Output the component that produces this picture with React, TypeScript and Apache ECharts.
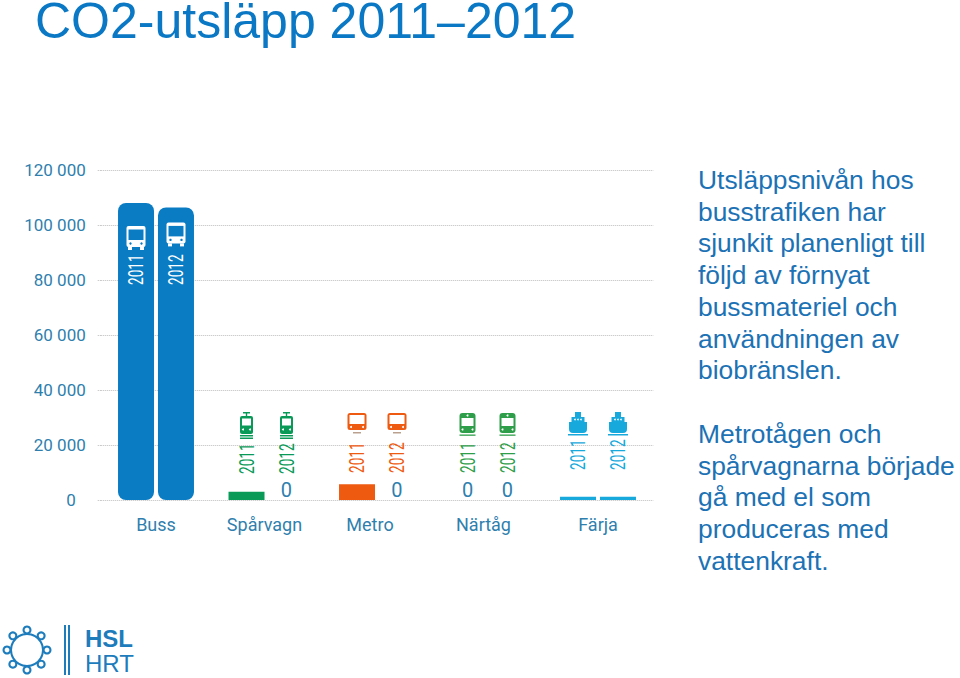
import React, { useEffect, useRef } from "react";
import * as echarts from "echarts";

const categories = ["Buss", "Spårvagn", "Metro", "Närtåg", "Färja"];
const years = ["2011", "2012"];
const values2011 = [108000, 3000, 5700, 0, 1200];
const values2012 = [106400, 0, 0, 0, 1200];
const modeColors = ["#0a7cc4", "#0a9a58", "#ee5a10", "#2f9e4a", "#18a9dc"];
const titleText = "CO2-utsläpp 2011\u20132012";
const paragraphOne = [
  "Utsläppsnivån hos",
  "busstrafiken har",
  "sjunkit planenligt till",
  "följd av förnyat",
  "bussmateriel och",
  "användningen av",
  "biobränslen.",
];
const paragraphTwo = [
  "Metrotågen och",
  "spårvagnarna började",
  "gå med el som",
  "produceras med",
  "vattenkraft.",
];

const NARROW = "Roboto, sans-serif";
const ARIAL = '"Liberation Sans", Arial, sans-serif';
const TEXT_BLUE = "#2f7fae";
const PARA = "#1c72b4";
const LOGO = "#1d7cbc";
const GRID = "#bdbdbd";
const labelNudge = [0, 4, 14, 8, 0];
const yearBottoms = [285, 474, 473, 473, 470];

const r = (x: number, y: number, width: number, height: number, fill: string, rad: any = 0) => ({
  type: "rect",
  shape: { x, y, width, height, r: rad },
  style: { fill },
});
const c = (cx: number, cy: number, radius: number, fill: string) => ({
  type: "circle",
  shape: { cx, cy, r: radius },
  style: { fill },
});

function iconParts(cat: number, color: string, bg: string) {
  if (cat === 0) {
    return [
      r(-9.5, -12, 19, 21, color, 2),
      r(-7.5, -8.5, 15, 10.5, bg),
      c(-5.5, 5.5, 1.2, bg),
      c(5.5, 5.5, 1.2, bg),
      r(-8, 9, 4, 3, color),
      r(4, 9, 4, 3, color),
    ];
  }
  if (cat === 1) {
    return [
      r(-3.5, -13, 7, 1.5, color),
      r(-0.7, -13, 1.4, 4, color),
      r(-6.5, -9, 13, 18, color, 2),
      r(-4.5, -6.5, 9, 7, bg),
      c(-3.5, 4.5, 1, bg),
      c(3.5, 4.5, 1, bg),
      r(-6.5, 10, 13, 1.5, color),
      r(-6.5, 12.5, 13, 1.5, color),
    ];
  }
  if (cat === 2) {
    return [
      r(-9.5, -12, 19, 17, color, 2.5),
      r(-7.5, -10, 15, 9, bg),
      c(-6, 2, 1, bg),
      c(6, 2, 1, bg),
      r(-4, 7, 8, 1.5, "#b9a08f"),
    ];
  }
  if (cat === 3) {
    return [
      r(-8, -12, 16, 20, color, 3),
      r(-6, -7, 12, 8, bg),
      c(0, -9.5, 1, bg),
      c(-5, 4.5, 1, bg),
      c(5, 4.5, 1, bg),
      r(-8, 9.5, 16, 1.3, color),
    ];
  }
  return [
    r(-3, -13, 6, 5, color),
    r(-6.5, -8, 13, 5, color),
    c(-3, -5.5, 0.8, bg),
    c(0, -5.5, 0.8, bg),
    c(3, -5.5, 0.8, bg),
    r(-9, -3, 18, 11, color, [0, 0, 4, 4]),
    r(-10, 9, 20, 1.5, color),
  ];
}

export default function App() {
  const ref = useRef<HTMLDivElement>(null);
  useEffect(() => {
    const chart = echarts.init(ref.current!, undefined, { renderer: "svg" });
    const bar = (name: string, values: number[]) => ({
      name,
      type: "bar",
      barWidth: 36,
      barGap: "11%",
      z: 3,
      data: values.map((v, i) => ({
        value: v,
        itemStyle: {
          color: modeColors[i],
          borderRadius: i === 0 ? [8, 8, 8, 8] : 0,
        },
        label:
          v === 0
            ? { show: true, position: "top", distance: 0, formatter: "0", color: TEXT_BLUE, fontFamily: NARROW, fontSize: 20 }
            : { show: false },
      })),
    });
    const markers: number[][] = [];
    categories.forEach((_, i) => years.forEach((__, j) => markers.push([i, j])));

    const paraLines = (lines: string[], top: number) =>
      lines.map((t, i) => ({
        type: "text",
        x: 698,
        y: top + i * 31.7,
        style: { text: t, fill: PARA, font: `26.4px ${ARIAL}`, textVerticalAlign: "middle" },
      }));

    const logoRing: any[] = [];
    for (let i = 0; i < 8; i++) {
      const a = (Math.PI / 4) * i - Math.PI / 2;
      logoRing.push({
        type: "ring",
        shape: { cx: 27 + 20 * Math.cos(a), cy: 650 + 20 * Math.sin(a), r: 4.5, r0: 2.4 },
        style: { fill: LOGO },
      });
    }
    const nudgeRich: Record<string, any> = {};
    labelNudge.forEach((p, i) => {
      nudgeRich["k" + i] = { color: TEXT_BLUE, fontFamily: NARROW, fontSize: 18, padding: [0, p, 0, 0] };
    });

    chart.setOption({
      animation: false,
      backgroundColor: "#ffffff",
      grid: { left: 100.75, right: 306.75, top: 170, bottom: 178, containLabel: false },
      xAxis: {
        type: "category",
        data: categories,
        axisLine: { show: false },
        axisTick: { show: false },
        axisLabel: {
          margin: 15,
          formatter: (name: string) => `{k${categories.indexOf(name)}|${name}}`,
          rich: nudgeRich,
        },
      },
      yAxis: {
        type: "value",
        min: 0,
        max: 120000,
        interval: 20000,
        axisLine: { show: false },
        axisTick: { show: true, length: 4, lineStyle: { color: GRID, type: "dotted" } },
        splitLine: { lineStyle: { color: GRID, type: "dotted", width: 1 } },
        axisLabel: {
          margin: 15,
          color: TEXT_BLUE,
          fontFamily: NARROW,
          fontSize: 17,
          formatter: (v: number) =>
            v === 0 ? "{z|0}" : String(v).replace(/(\d)(\d{3})$/, "$1 $2"),
          rich: { z: { color: TEXT_BLUE, fontFamily: NARROW, fontSize: 17, padding: [0, 10, 0, 0] } },
        },
      },
      series: [
        bar(years[0], values2011),
        bar(years[1], values2012),
        {
          type: "custom",
          name: "markers",
          silent: true,
          z: 5,
          data: markers,
          encode: { x: 0, y: -1 },
          renderItem: (_p: any, api: any) => {
            const cat = api.value(0);
            const yr = api.value(1);
            const x0 = api.coord([cat, 0])[0] + (yr === 0 ? -20 : 20);
            const isBus = cat === 0;
            const topV = yr === 0 ? values2011[0] : values2012[0];
            const busTop = api.coord([cat, topV])[1];
            const iconY = isBus ? (yr === 0 ? busTop + 35 : busTop + 27) : 425;
            const color = isBus ? "#ffffff" : modeColors[cat];
            const bg = isBus ? modeColors[0] : "#ffffff";
            return {
              type: "group",
              children: [
                { type: "group", x: x0, y: iconY, children: iconParts(cat, color, bg) },
                {
                  type: "text",
                  x: x0,
                  y: yearBottoms[cat],
                  rotation: Math.PI / 2,
                  scaleX: 0.68,
                  style: {
                    text: years[yr],
                    fill: color,
                    font: `20px ${NARROW}`,
                    textAlign: "left",
                    textVerticalAlign: "middle",
                  },
                },
              ],
            };
          },
        },
      ],
      graphic: [
        {
          type: "text",
          x: 35,
          y: 21,
          style: { text: titleText, fill: "#0a78c4", font: `50px ${ARIAL}`, textVerticalAlign: "middle" },
        },
        ...paraLines(paragraphOne, 180),
        ...paraLines(paragraphTwo, 434),
        ...logoRing,
        { type: "ring", shape: { cx: 27, cy: 650, r: 17, r0: 15 }, style: { fill: LOGO } },
        { type: "rect", shape: { x: 64, y: 625, width: 2, height: 50 }, style: { fill: LOGO } },
        { type: "rect", shape: { x: 68, y: 625, width: 2, height: 50 }, style: { fill: LOGO } },
        { type: "text", x: 85, y: 638, style: { text: "HSL", fill: LOGO, font: `bold 24px ${ARIAL}`, textVerticalAlign: "middle" } },
        { type: "text", x: 85, y: 663, style: { text: "HRT", fill: LOGO, font: `24px ${ARIAL}`, textVerticalAlign: "middle" } },
      ],
    });
    return () => chart.dispose();
  }, []);
  return <div ref={ref} style={{ position: "absolute", left: 0, top: 0, width: 960, height: 678 }} />;
}
